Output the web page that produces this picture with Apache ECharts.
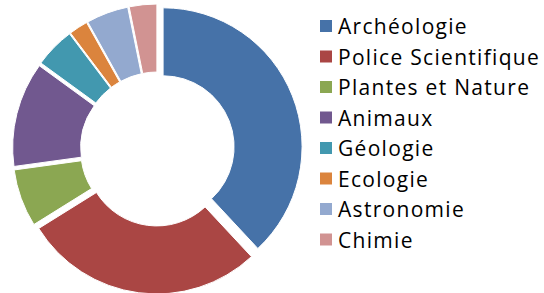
<!DOCTYPE html>
<html><head><meta charset="utf-8">
<script src="https://cdn.jsdelivr.net/npm/echarts@6/dist/echarts.min.js"></script>
<style>html,body{margin:0;padding:0;background:#fff}#c{width:544px;height:293px}#c text{letter-spacing:1.3px}</style>
</head><body><div id="c"></div>
<script>
var categories = ['Archéologie','Police Scientifique','Plantes et Nature','Animaux','Géologie','Ecologie','Astronomie','Chimie'];
var values = [38.1, 28.1, 6.7, 12.2, 4.7, 2.2, 4.9, 3.2];
var colors = ['#4672A8','#AA4644','#8BA752','#71588F','#4298AF','#DB843D','#93A9CF','#D19392'];

var chart = echarts.init(document.getElementById('c'), null, {renderer:'svg'});
chart.setOption({
  animation: false,
  color: colors,
  legend: {
    orient: 'vertical', left: 313, top: 9,
    itemWidth: 14, itemHeight: 14, itemGap: 6.5,
    icon: 'rect',
    selectedMode: false,
    data: categories,
    textStyle: { fontFamily: 'Open Sans', fontSize: 21, color: '#000', lineHeight: 24 }
  },
  series: [{
    type: 'pie',
    center: [157.5, 149],
    radius: [71, 139],
    startAngle: 90,
    clockwise: true,
    selectedMode: 'multiple',
    selectedOffset: 6,
    label: { show: false }, labelLine: { show: false },
    emphasis: { disabled: true },
    itemStyle: { borderColor: '#fff', borderWidth: 1 },
    data: categories.map(function(n,i){ return { name: n, value: values[i], selected: true }; })
  }]
});
</script></body></html>
